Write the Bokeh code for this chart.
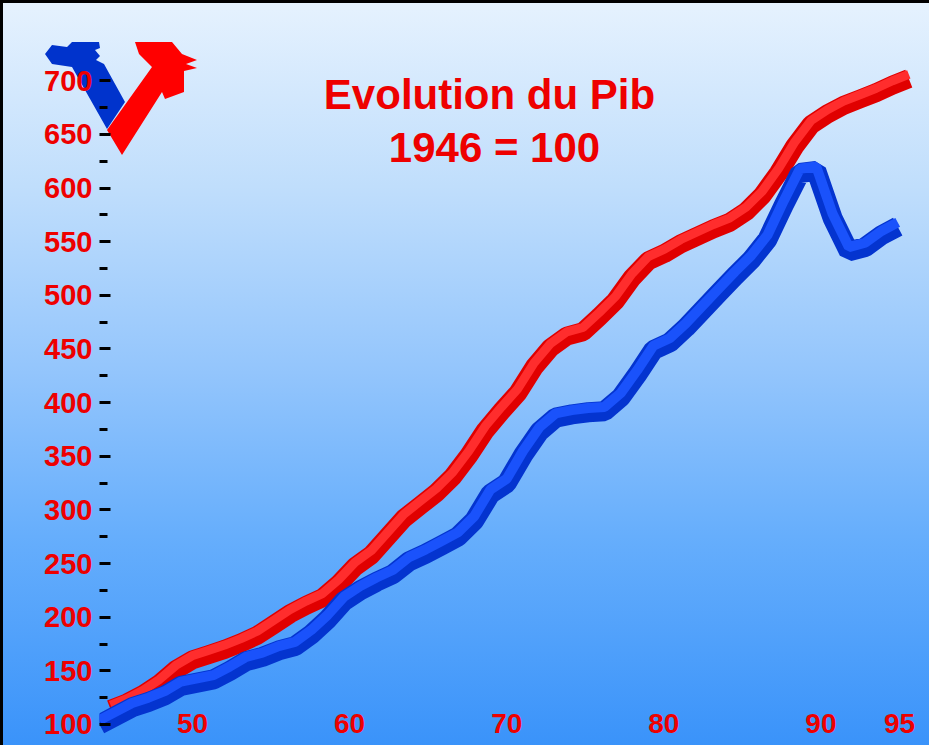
from bokeh.plotting import figure
from bokeh.models import (Range1d, LinearAxis, FixedTicker, Label,
                          ColumnDataSource)
from bokeh.transform import dodge
from bokeh.embed import file_html
from bokeh.resources import INLINE

# ---- data (1946 = 100) ----
annees = list(range(1946, 1996))
pib_bleu = [100, 108, 116, 121, 127, 136, 139, 142, 150, 159,
            163, 169, 173, 184, 198, 215, 225, 233, 240, 252,
            259, 267, 275, 290, 315, 325, 351, 373, 386, 389,
            391, 392, 405, 426, 449, 456, 470, 486, 502, 518,
            533, 552, 584, 614, 616, 572, 541, 545, 556, 564]
pib_rouge = [100, 106, 114, 124, 137, 146, 151, 156, 162, 169,
             179, 189, 197, 204, 217, 233, 244, 261, 278, 290,
             302, 317, 337, 360, 378, 395, 419, 437, 448, 452,
             466, 481, 502, 518, 525, 534, 541, 548, 554, 564,
             579, 600, 625, 645, 655, 663, 669, 675, 682, 688]
x_ticks = [1950, 1960, 1970, 1980, 1990, 1995]
x_tick_labels = ["50", "60", "70", "80", "90", "95"]
y_ticks = list(range(100, 701, 50))
y_minor = list(range(125, 700, 50))

title1 = "Evolution du Pib"
title2 = "1946 = 100"

RED = "#ee0000"
FONT = "Liberation Sans"
FRAME_LEFT = 99

# decorative logo (blue and red arms of a "V"), figure pixel outline
logo_blue = [(45, 54), (52, 45), (67, 47), (72, 42), (99, 42), (100, 48), (95, 50),
             (100, 56), (96, 60), (104, 64), (125, 102), (107, 129), (72, 67), (52, 64)]
logo_red = [(107, 130), (152, 67), (139, 54), (135, 42), (172, 42), (182, 54),
            (197, 60), (186, 64), (197, 68), (184, 71), (184, 92), (165, 99),
            (162, 92), (122, 155)]


def _pts(pts):
    return " ".join(f"{a},{b}" for a, b in pts)


logo_svg = ("<svg xmlns='http://www.w3.org/2000/svg' width='929' height='745'>"
            f"<polygon points='{_pts(logo_blue)}' fill='%230033cc'/>"
            f"<polygon points='{_pts(logo_red)}' fill='%23ff0000'/></svg>")

p = figure(width=929, height=745,
           x_range=Range1d(1946, 1996.95), y_range=Range1d(80.4, 774.8),
           output_backend="svg", toolbar_location=None,
           x_axis_location=None, y_axis_location=None,
           min_border_left=FRAME_LEFT, min_border_right=0,
           min_border_top=0, min_border_bottom=0)
p.background_fill_alpha = 0
p.border_fill_color = None
p.outline_line_color = None
p.grid.visible = False
p.styles = {
    "background": (f"url(\"data:image/svg+xml;utf8,{logo_svg}\") no-repeat 0 0, "
                   "linear-gradient(to bottom, #e6f2fe 0%, #c0defc 25%, "
                   "#93c5fc 50%, #66aefc 72%, #3a93fa 100%)"),
    "box-shadow": "inset 3px 3px 0 0 #000000",
}

# label axis (3D chart: labels sit on their own scale)
p.extra_x_ranges = {"lab": Range1d(1944.08, 1996.91)}
xax = LinearAxis(x_range_name="lab", ticker=FixedTicker(ticks=x_ticks),
                 major_label_overrides=dict(zip(x_ticks, x_tick_labels)))
xax.axis_line_color = None
xax.major_tick_line_color = None
xax.minor_tick_line_color = None
xax.major_tick_out = 0
xax.major_tick_in = 0
xax.major_label_standoff = -32
xax.major_label_text_color = RED
xax.major_label_text_font = FONT
xax.major_label_text_font_style = "bold"
xax.major_label_text_font_size = "28px"
p.add_layout(xax, "below")

yax = LinearAxis(ticker=FixedTicker(ticks=y_ticks, minor_ticks=y_minor))
yax.axis_line_color = None
yax.major_tick_in = 11
yax.major_tick_out = 0
yax.minor_tick_in = 8
yax.minor_tick_out = 0
yax.major_tick_line_width = 3
yax.minor_tick_line_width = 3
yax.major_tick_line_color = "black"
yax.minor_tick_line_color = "black"
yax.major_label_standoff = 7
yax.major_label_text_color = RED
yax.major_label_text_font = FONT
yax.major_label_text_font_style = "bold"
yax.major_label_text_font_size = "29px"
p.add_layout(yax, "left")

src = ColumnDataSource(dict(annee=annees, bleu=pib_bleu, rouge=pib_rouge))

# red ribbon (back row of the 3D chart)
p.line(x=dodge("annee", 0.68, range=p.x_range), y=dodge("rouge", 14, range=p.y_range),
       source=src, line_width=19, line_color="#e00000", line_join="bevel")
p.line(x=dodge("annee", 0.68, range=p.x_range), y=dodge("rouge", 18, range=p.y_range),
       source=src, line_width=9, line_color="#ff2d2d", line_join="bevel")
# blue ribbon (front row)
p.line(x="annee", y="bleu", source=src, line_width=20, line_color="#0434cf",
       line_join="bevel")
p.line(x="annee", y=dodge("bleu", 4, range=p.y_range), source=src, line_width=10,
       line_color="#1a52fb", line_join="bevel")

# title (screen x is measured from the frame's left edge)
p.add_layout(Label(x=497 - 8 - FRAME_LEFT, y=745 - 94, x_units="screen", y_units="screen",
                   text=title1, text_align="center", text_baseline="middle",
                   text_color=RED, text_font=FONT, text_font_style="bold",
                   text_font_size="42px"))
p.add_layout(Label(x=502 - 8 - FRAME_LEFT, y=745 - 147, x_units="screen", y_units="screen",
                   text=title2, text_align="center", text_baseline="middle",
                   text_color=RED, text_font=FONT, text_font_style="bold",
                   text_font_size="42px"))

open("out.html", "w").write(file_html(p, INLINE))
